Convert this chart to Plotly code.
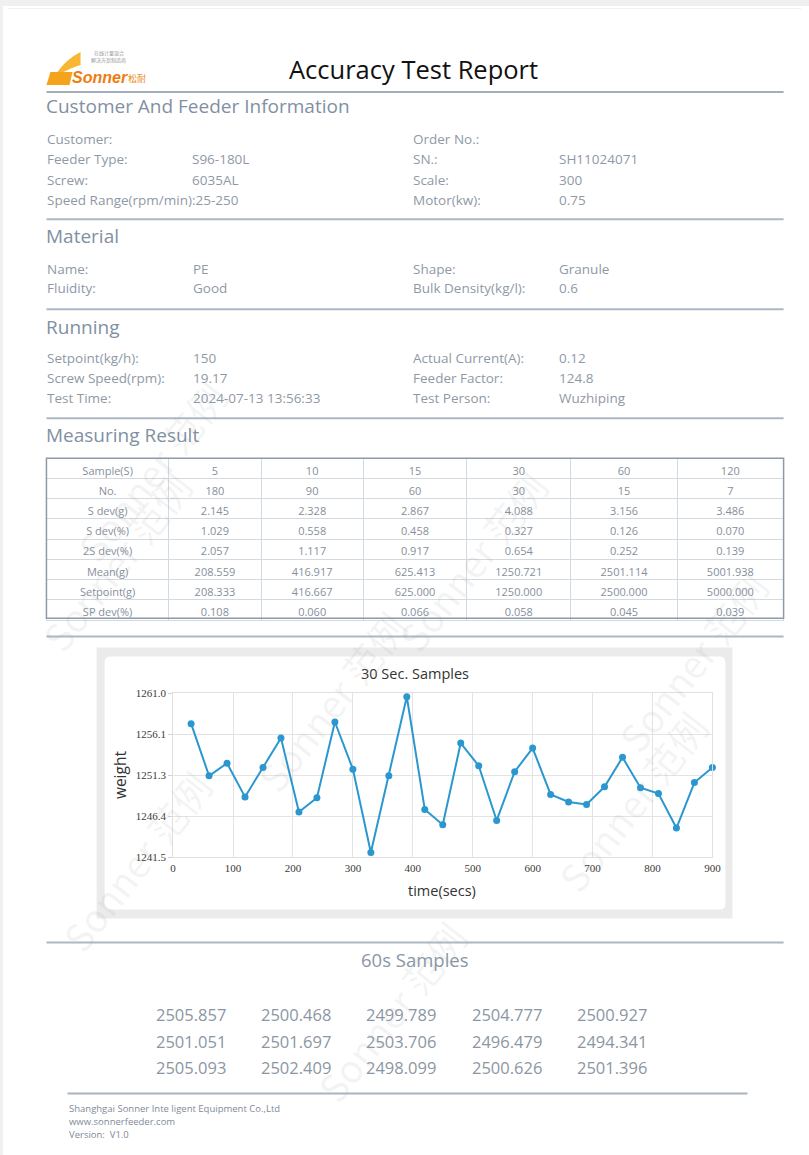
import plotly.graph_objects as go

# ---------------- data ----------------
info_left = [("Customer:", ""), ("Feeder Type:", "S96-180L"), ("Screw:", "6035AL"),
             ("Speed Range(rpm/min):25-250", "")]
info_right = [("Order No.:", ""), ("SN.:", "SH11024071"), ("Scale:", "300"), ("Motor(kw):", "0.75")]
material_left = [("Name:", "PE"), ("Fluidity:", "Good")]
material_right = [("Shape:", "Granule"), ("Bulk Density(kg/l):", "0.6")]
running_left = [("Setpoint(kg/h):", "150"), ("Screw Speed(rpm):", "19.17"), ("Test Time:", "2024-07-13 13:56:33")]
running_right = [("Actual Current(A):", "0.12"), ("Feeder Factor:", "124.8"), ("Test Person:", "Wuzhiping")]

sample_s = [5, 10, 15, 30, 60, 120]
sample_no = [180, 90, 60, 30, 15, 7]
s_dev_g = [2.145, 2.328, 2.867, 4.088, 3.156, 3.486]
s_dev_pct = [1.029, 0.558, 0.458, 0.327, 0.126, 0.070]
s2_dev_pct = [2.057, 1.117, 0.917, 0.654, 0.252, 0.139]
mean_g = [208.559, 416.917, 625.413, 1250.721, 2501.114, 5001.938]
setpoint_g = [208.333, 416.667, 625.000, 1250.000, 2500.000, 5000.000]
sp_dev_pct = [0.108, 0.060, 0.066, 0.058, 0.045, 0.039]

time_secs = [30, 60, 90, 120, 150, 180, 210, 240, 270, 300, 330, 360, 390, 420, 450,
             480, 510, 540, 570, 600, 630, 660, 690, 720, 750, 780, 810, 840, 870, 900]
weight_30s = [1257.4, 1251.2, 1252.7, 1248.7, 1252.2, 1255.7, 1246.9, 1248.6, 1257.6, 1252.0,
              1242.1, 1251.2, 1260.6, 1247.2, 1245.4, 1255.1, 1252.4, 1245.9, 1251.7, 1254.5,
              1249.0, 1248.1, 1247.8, 1249.9, 1253.4, 1249.8, 1249.1, 1245.0, 1250.4, 1252.2]
y_tickvals = [1241.5, 1246.375, 1251.25, 1256.125, 1261.0]
y_ticktext = ["1241.5", "1246.4", "1251.3", "1256.1", "1261.0"]
x_tickvals = [0, 100, 200, 300, 400, 500, 600, 700, 800, 900]

samples_60s = [2505.857, 2500.468, 2499.789, 2504.777, 2500.927,
               2501.051, 2501.697, 2503.706, 2496.479, 2494.341,
               2505.093, 2502.409, 2498.099, 2500.626, 2501.396]

# ---------------- helpers ----------------
OFF = 8
W, H = 809 - 2 * OFF, 1155 - 2 * OFF
# measured correction between page pixels and picture pixels
AX, BX = 2.8, 0.982
AY, BY = 5.0, 0.989
FONT = "Open Sans"
GREY_TXT = "#8f99a6"
HEAD_TXT = "#8190a3"
RULE = "#aeb8c5"
BG = "#f0f0f0"
TICKFONT = dict(family="Liberation Serif", size=11, color="#3a3a3a")


def X(x):
    return ((x - AX) / BX - OFF) / W


def Y(y):
    return 1 - ((y - AY) / BY - OFF) / H


annotations = []
shapes = []


def txt(x, y, s, size, color=GREY_TXT, xanchor="left", family=FONT, angle=0, yanchor="middle"):
    annotations.append(dict(x=X(x), y=Y(y), xref="paper", yref="paper", text=s, showarrow=False,
                            xanchor=xanchor, yanchor=yanchor, textangle=angle, borderpad=0,
                            font=dict(size=size, color=color, family=family)))


def rule(y, x0=46, x1=781, color=RULE, width=2):
    shapes.append(dict(type="line", xref="paper", yref="paper", x0=X(x0), x1=X(x1), y0=Y(y), y1=Y(y),
                       line=dict(color=color, width=width), layer="below"))


def rect(x0, y0, x1, y1, fill, line=None, lw=0, layer="below"):
    shapes.append(dict(type="rect", xref="paper", yref="paper", x0=X(x0), x1=X(x1), y0=Y(y1), y1=Y(y0),
                       fillcolor=fill, line=dict(color=line or fill, width=lw), layer=layer))


# grey surround of the page (paper itself is white)
rect(-30, -30, 840, 8, BG)
rect(-30, -30, 5, 1200, BG)
rect(806, -30, 840, 1200, BG)

# logo
shapes.append(dict(type="path", xref="paper", yref="paper", layer="below",
                   path="M {} {} L {} {} L {} {} L {} {} Z".format(X(46), Y(84), X(50), Y(71), X(72), Y(71), X(69), Y(84)),
                   fillcolor="#f5a31a", line=dict(width=0)))
shapes.append(dict(type="path", xref="paper", yref="paper", layer="below",
                   path="M {} {} Q {} {} {} {} L {} {} Q {} {} {} {} Z".format(
                       X(57), Y(71), X(66), Y(58), X(80), Y(51), X(80), Y(64), X(70), Y(67), X(63), Y(71)),
                   fillcolor="#f7b733", line=dict(width=0)))
txt(70, 76, "<b><i>Sonner</i></b>", 16, "#ee7d10", family="Liberation Sans")
txt(126, 77, "松耐", 9, "#ee8a10", family="Noto Sans CJK SC")
txt(108, 52, "在线计量混合", 5, "#999999", xanchor="center", family="Noto Sans CJK SC")
txt(108, 59, "解决方案制造商", 5, "#999999", xanchor="center", family="Noto Sans CJK SC")

# title
txt(412, 68, "Accuracy Test Report", 25.5, "#111111", xanchor="center")
rule(91, color="#a3aebd")

# Customer and feeder info
txt(45, 105, "Customer And Feeder Information", 19, HEAD_TXT)
for i, (lab, val) in enumerate(info_left):
    yy = 138 + i * 20.2
    txt(46, yy, lab, 13.5)
    if val:
        txt(190, yy, val, 13.5)
for i, (lab, val) in enumerate(info_right):
    yy = 138 + i * 20.2
    txt(410, yy, lab, 13.5)
    if val:
        txt(556, yy, val, 13.5)
rule(218)

# Material
txt(45, 235, "Material", 19, HEAD_TXT)
for i, (lab, val) in enumerate(material_left):
    yy = 268 + i * 19
    txt(46, yy, lab, 13.5)
    txt(191, yy, val, 13.5)
for i, (lab, val) in enumerate(material_right):
    yy = 268 + i * 19
    txt(410, yy, lab, 13.5)
    txt(556, yy, val, 13.5)
rule(308)

# Running
txt(45, 326, "Running", 19, HEAD_TXT)
for i, (lab, val) in enumerate(running_left):
    yy = 357 + i * 20
    txt(46, yy, lab, 13.5)
    txt(191, yy, val, 13.5)
for i, (lab, val) in enumerate(running_right):
    yy = 357 + i * 20
    txt(410, yy, lab, 13.5)
    txt(556, yy, val, 13.5)
rule(417)

# Measuring result
txt(45, 434, "Measuring Result", 19, HEAD_TXT)

row_labels = ["No.", "S dev(g)", "S dev(%)", "2S dev(%)", "Mean(g)", "Setpoint(g)", "SP dev(%)"]
rows = [
    [str(v) for v in sample_no],
    ["%.3f" % v for v in s_dev_g],
    ["%.3f" % v for v in s_dev_pct],
    ["%.3f" % v for v in s2_dev_pct],
    ["%.3f" % v for v in mean_g],
    ["%.3f" % v for v in setpoint_g],
    ["%.3f" % v for v in sp_dev_pct],
]
columns = [row_labels] + [[r[j] for r in rows] for j in range(len(sample_s))]
header_vals = ["Sample(S)"] + [str(s) for s in sample_s]
row_h = 20 / BY

table = go.Table(
    domain=dict(x=[X(46), X(781)], y=[Y(620), Y(457)]),
    columnwidth=[122, 92, 102, 103, 104, 106, 106],
    header=dict(values=header_vals, height=row_h, align="center", fill_color="white",
                line=dict(color="#d3d9e1", width=1),
                font=dict(family=FONT, size=11, color="#878f9b")),
    cells=dict(values=columns, height=row_h, align="center", fill_color="white",
               line=dict(color="#d3d9e1", width=1),
               font=dict(family=FONT, size=11, color="#878f9b")),
)
rect(46, 457, 781, 617, "rgba(0,0,0,0)", line="#8d9aaa", lw=1.5, layer="above")
rule(635)

# chart card
rect(96, 646, 730, 917, "#ebebeb")
shapes.append(dict(type="path", xref="paper", yref="paper", layer="below",
                   path=("M {x0} {yb} L {x0} {yt} Q {x0} {yT} {x0r} {yT} L {x1r} {yT} Q {x1} {yT} {x1} {yt} "
                         "L {x1} {yb} Q {x1} {yB} {x1r} {yB} L {x0r} {yB} Q {x0} {yB} {x0} {yb} Z").format(
                       x0=X(104), x1=X(723), x0r=X(110), x1r=X(717), yT=Y(655), yt=Y(661), yB=Y(908), yb=Y(902)),
                   fillcolor="white", line=dict(width=0)))
txt(413, 672, "30 Sec. Samples", 14.5, "#333333", xanchor="center")
txt(120, 773, "weight", 15.5, "#333333", xanchor="center", angle=-90)
txt(440, 889, "time(secs)", 14.5, "#333333", xanchor="center")

line = go.Scatter(x=time_secs, y=weight_30s, mode="lines+markers",
                  line=dict(color="#2b97cf", width=2),
                  marker=dict(color="#2b97cf", size=7), cliponaxis=False, hoverinfo="x+y")

rule(941)

# 60s samples
txt(413, 958, "60s Samples", 18.5, "#8a96a6", xanchor="center")
col_x = [155, 260, 365, 470, 575]
row_y = [1013, 1040, 1066]
for k, v in enumerate(samples_60s):
    r, c = divmod(k, 5)
    txt(col_x[c] - 1, row_y[r], "%.3f" % v, 16.5, "#8c96a3")

# footer
rule(1092, 67, 745, color="#a9b3c0")
txt(67, 1107, "Shanghgai Sonner Inte ligent Equipment Co.,Ltd", 9.5, "#7f8a97")
txt(67, 1120, "www.sonnerfeeder.com", 9.5, "#7f8a97")
txt(67, 1133, "Version:  V1.0", 9.5, "#7f8a97")

# watermarks
for (wx, wy) in [(135, 860), (630, 800), (390, 1010), (470, 560), (115, 560), (330, 700), (690, 660), (150, 470)]:
    txt(wx, wy, "Sonner 范例", 38, "rgba(160,160,160,0.12)", xanchor="center",
        family="Noto Sans CJK SC", angle=-52)

fig = go.Figure([table, line])
fig.update_layout(
    width=W, height=H, margin=dict(l=0, r=0, t=0, b=0),
    paper_bgcolor="white", plot_bgcolor="white", showlegend=False,
    annotations=annotations, shapes=shapes,
    xaxis=dict(domain=[X(172.3), X(710)], range=[0, 900], tickvals=x_tickvals,
               showgrid=True, gridcolor="#e3e3e3", gridwidth=1, zeroline=False,
               showline=True, linecolor="#e0e0e0", mirror=True, ticks="",
               tickfont=TICKFONT),
    yaxis=dict(domain=[Y(856), Y(692)], range=[1241.5, 1261.0], tickvals=y_tickvals, ticktext=y_ticktext,
               showgrid=True, gridcolor="#e3e3e3", gridwidth=1, zeroline=False,
               showline=True, linecolor="#e0e0e0", mirror=True, ticks="outside", ticklen=4,
               tickcolor="#d0d0d0", tickfont=TICKFONT),
)
fig.write_html("out.html", config={"displayModeBar": False},
               post_script=("document.body.style.background="
                            "'linear-gradient(to right, #f0f0f0 3px, transparent 3px), "
                            "linear-gradient(to bottom, #f0f0f0 6px, #ffffff 6px)';"))
